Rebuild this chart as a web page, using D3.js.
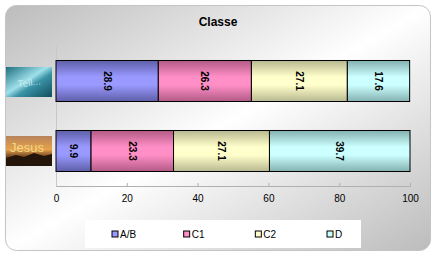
<!DOCTYPE html>
<html lang="en">
<head>
<meta charset="UTF-8">
<title>Classe</title>
<script src="https://cdn.jsdelivr.net/npm/d3@7"></script>
<style>
  body { margin: 0; background: #fff; }
  text { font-family: "Liberation Sans", Arial, sans-serif; }
</style>
</head>
<body>
<div id="chart"></div>
<script>
// data
const categories = ["Temple", "Jesus"];
const series = ["A/B", "C1", "C2", "D"];
const valuesAB = [28.9, 9.9];
const valuesC1 = [26.3, 23.3];
const valuesC2 = [27.1, 27.1];
const valuesD  = [17.6, 39.7];
const xTicks = [0, 20, 40, 60, 80, 100];

const colors = {
  "A/B": ["#5e5ea8", "#9999ff"],
  "C1":  ["#b25a86", "#ff8fc6"],
  "C2":  ["#b8b890", "#ffffcc"],
  "D":   ["#84b0b0", "#ccffff"]
};

const W = 436, H = 256;
const svg = d3.select("#chart").append("svg")
  .attr("width", W).attr("height", H);

const defs = svg.append("defs");

// chart background gradient (diagonal)
const bg = defs.append("linearGradient").attr("id", "bg")
  .attr("x1", 0).attr("y1", 0).attr("x2", 1).attr("y2", 1);
bg.append("stop").attr("offset", "0").attr("stop-color", "#bcbcbc");
bg.append("stop").attr("offset", "0.5").attr("stop-color", "#ffffff");
bg.append("stop").attr("offset", "1").attr("stop-color", "#bcbcbc");

// bar gradients
series.forEach((s, i) => {
  const g = defs.append("linearGradient").attr("id", "g" + i)
    .attr("x1", 0).attr("y1", 0).attr("x2", 0).attr("y2", 1);
  g.append("stop").attr("offset", "0").attr("stop-color", colors[s][0]);
  g.append("stop").attr("offset", "0.4").attr("stop-color", colors[s][1]);
  g.append("stop").attr("offset", "0.6").attr("stop-color", colors[s][1]);
  g.append("stop").attr("offset", "1").attr("stop-color", colors[s][0]);
});

// picture gradients for the category labels
const p1 = defs.append("linearGradient").attr("id", "pic0")
  .attr("x1", 0).attr("y1", 0).attr("x2", 1).attr("y2", 1);
p1.append("stop").attr("offset", "0").attr("stop-color", "#1d6f80");
p1.append("stop").attr("offset", "0.45").attr("stop-color", "#9fe0ea");
p1.append("stop").attr("offset", "0.6").attr("stop-color", "#3a93a6");
p1.append("stop").attr("offset", "1").attr("stop-color", "#0f4d5c");
const p2 = defs.append("linearGradient").attr("id", "pic1")
  .attr("x1", 0).attr("y1", 0).attr("x2", 0).attr("y2", 1);
p2.append("stop").attr("offset", "0").attr("stop-color", "#b8835a");
p2.append("stop").attr("offset", "0.45").attr("stop-color", "#e6a24a");
p2.append("stop").attr("offset", "0.7").attr("stop-color", "#6a4020");
p2.append("stop").attr("offset", "1").attr("stop-color", "#1e1008");

svg.append("rect")
  .attr("x", 5.5).attr("y", 5.5).attr("width", 425).attr("height", 245)
  .attr("rx", 11)
  .attr("fill", "url(#bg)")
  .attr("stroke", "#c4c4c4");

svg.append("text")
  .attr("x", 218).attr("y", 26)
  .attr("text-anchor", "middle")
  .attr("font-size", "12px").attr("font-weight", "bold")
  .text("Classe");

const margin = {top: 46, left: 56, right: 26, bottom: 70};
const x = d3.scaleLinear().domain([0, 100]).range([margin.left, 410]);
const y = d3.scaleBand().domain(categories)
  .range([margin.top, 186]).paddingInner(0.414).paddingOuter(0.207);

// axes
const xAxis = svg.append("g").attr("transform", "translate(0,186)")
  .call(d3.axisBottom(x).tickValues(xTicks).tickSize(-3).tickPadding(9));
xAxis.select(".domain").attr("stroke", "#b0b0b0");
xAxis.selectAll(".tick line").attr("stroke", "#b0b0b0");
xAxis.selectAll("text").attr("font-size", "10px").attr("fill", "#000")
  .attr("font-family", "Liberation Sans, Arial, sans-serif");

svg.append("line")
  .attr("x1", x(0) + 0.5).attr("x2", x(0) + 0.5)
  .attr("y1", margin.top).attr("y2", 186)
  .attr("stroke", "#c8c8c8");

// stacked bars
const rows = categories.map((c, i) => ({
  cat: c, "A/B": valuesAB[i], C1: valuesC1[i], C2: valuesC2[i], D: valuesD[i]
}));
const stack = d3.stack().keys(series)(rows);

stack.forEach((layer, si) => {
  const g = svg.append("g");
  g.selectAll("rect").data(layer).join("rect")
    .attr("x", d => x(d[0]))
    .attr("y", d => y(d.data.cat))
    .attr("width", d => x(d[1]) - x(d[0]))
    .attr("height", y.bandwidth())
    .attr("fill", "url(#g" + si + ")")
    .attr("stroke", "#000").attr("stroke-width", 1);
  g.selectAll("text").data(layer).join("text")
    .attr("transform", d => `translate(${(x(d[0]) + x(d[1])) / 2},${y(d.data.cat) + y.bandwidth() / 2}) rotate(90)`)
    .attr("text-anchor", "middle").attr("dy", "0.35em")
    .attr("font-size", "10px").attr("font-weight", "bold")
    .text(d => (d[1] - d[0]).toFixed(1));
});

// category pictures
categories.forEach((c, i) => {
  const cy = y(c) + y.bandwidth() / 2 + (i === 0 ? 1 : 0);
  const g = svg.append("g").attr("transform", `translate(6,${cy - 15})`);
  g.append("rect").attr("width", 46).attr("height", 30).attr("fill", `url(#pic${i})`);
  if (i === 0) {
    g.append("text").attr("x", 23).attr("y", 19).attr("text-anchor", "middle")
      .attr("font-size", "10px").attr("fill", "#d8f4f8").attr("opacity", 0.8)
      .attr("transform", "rotate(-8,23,15)")
      .text("Tell...");
  } else {
    g.append("text").attr("x", 4).attr("y", 16)
      .attr("font-size", "13px").attr("fill", "#f3d98a")
      .text("Jesus");
    g.append("path")
      .attr("d", "M0,30 L0,22 L10,19 L18,21 L28,17 L38,20 L46,18 L46,30 Z")
      .attr("fill", "#24150a");
  }
});

// legend
svg.append("rect")
  .attr("x", 85).attr("y", 220).attr("width", 276).attr("height", 28)
  .attr("fill", "#fff");
const lx = d3.scalePoint().domain(series).range([112, 327]);
const lg = svg.append("g").selectAll("g").data(series).join("g")
  .attr("transform", d => `translate(${lx(d)},231)`);
lg.append("rect").attr("width", 6).attr("height", 6)
  .attr("fill", d => colors[d][1]).attr("stroke", "#000");
lg.append("text").attr("x", 8).attr("y", 7)
  .attr("font-size", "10px").text(d => d);
</script>
</body>
</html>
